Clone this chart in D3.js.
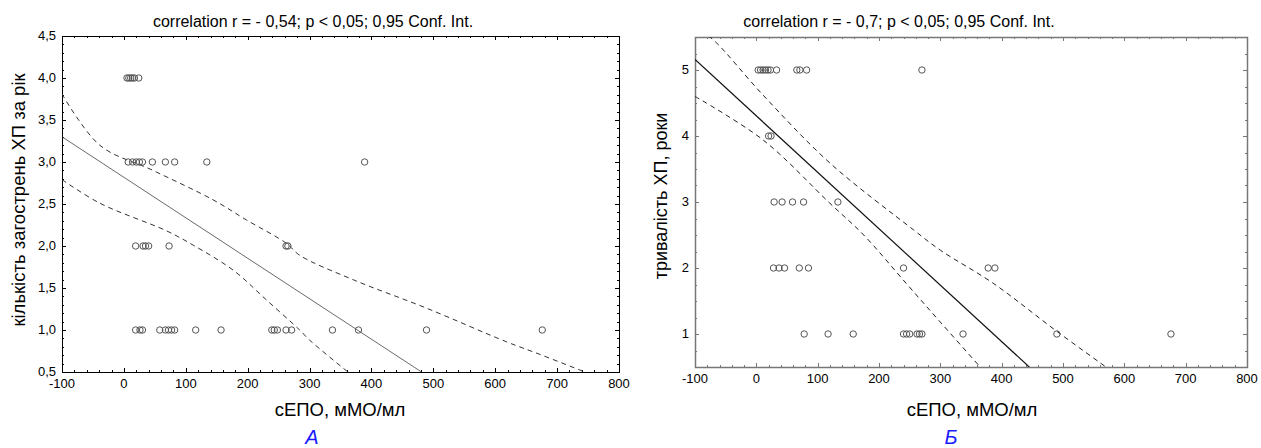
<!DOCTYPE html>
<html><head><meta charset="utf-8">
<script src="https://cdn.jsdelivr.net/npm/d3@7"></script>
<style>body{margin:0;background:#fff;overflow:hidden}svg{display:block}text{font-family:Arial,"Liberation Sans",sans-serif}</style>
</head><body><svg id="c" width="1261" height="448"></svg>
<script>
// ---- Panel A data ----
const titleA = "correlation r = - 0,54; p < 0,05; 0,95 Conf. Int.";
const yLabelA = "кількість загострень ХП за рік";
const xTicksA = [-100,0,100,200,300,400,500,600,700,800];
const yTicksA = [0.5,1.0,1.5,2.0,2.5,3.0,3.5,4.0,4.5];
const ptsA_x = [5,8,11,14,17,24, 7,14,20,25,30,46,67,82,134,389, 19,31,35,40,73,262,265, 19,26,30,58,67,72,77,82,116,157,239,243,248,262,271,337,379,489,676];
const ptsA_y = [4,4,4,4,4,4, 3,3,3,3,3,3,3,3,3,3, 2,2,2,2,2,2,2, 1,1,1,1,1,1,1,1,1,1,1,1,1,1,1,1,1,1,1];
const fitA = [[-100,3.3],[481,0.5]];
const upperA = [[-100,3.81],[-39,3.2],[47,2.9],[144,2.55],[198,2.31],[263,2.03],[284,1.89],[370,1.6],[489,1.26],[618,0.86],[672,0.71],[745,0.5]];
const lowerA = [[-100,2.79],[-39,2.51],[69,2.18],[112,2.01],[177,1.71],[230,1.36],[284,1.0],[300,0.88],[362,0.5]];

// ---- Panel B data ----
const titleB = "correlation r = - 0,7; p < 0,05; 0,95 Conf. Int.";
const yLabelB = "тривалість ХП, роки";
const xTicksB = [-100,0,100,200,300,400,500,600,700,800];
const yTicksB = [1,2,3,4,5];
const ptsB_x = [3,7,11,15,19,23,33,66,71,82,270, 20,24, 29,42,59,77,133, 28,37,46,70,85,240,378,389, 78,117,158,240,245,250,262,266,270,337,490,676];
const ptsB_y = [5,5,5,5,5,5,5,5,5,5,5, 4,4, 3,3,3,3,3, 2,2,2,2,2,2,2,2, 1,1,1,1,1,1,1,1,1,1,1,1];
const fitB = [[-100,5.16],[445,0.5]];
const upperB = [[-90,5.6],[-67,5.43],[11,4.62],[120,3.59],[256,2.58],[300,2.27],[386,1.77],[490,1.04],[570,0.5]];
const lowerB = [[-100,4.6],[11,3.94],[120,2.98],[175,2.5],[245,1.76],[300,1.18],[365,0.5]];

const xLabel = "сЕПО, мМО/мл";

const svg = d3.select("#c");

function panel(o){
  const g = svg.append("g");
  const x = d3.scaleLinear().domain(o.xd).range([o.x0,o.x1]);
  const y = d3.scaleLinear().domain(o.yd).range([o.y1,o.y0]);
  const cid = "clip"+o.id;
  svg.append("clipPath").attr("id",cid).append("rect").attr("x",o.x0).attr("y",o.y0).attr("width",o.x1-o.x0).attr("height",o.y1-o.y0);
  const mx = d3.range(o.xd[0],o.xd[1]+0.001,o.xminor);
  const my = d3.range(o.yd[0],o.yd[1]+0.001,o.yminor);
  const tk = g.append("g").attr("stroke",o.axisColor).attr("stroke-width",1);
  mx.forEach(v=>{ const X=Math.round(x(v))+0.5;
    tk.append("line").attr("x1",X).attr("x2",X).attr("y1",o.y1).attr("y2",o.y1-2);
    tk.append("line").attr("x1",X).attr("x2",X).attr("y1",o.y0).attr("y2",o.y0+2);});
  my.forEach(v=>{ const Y=Math.round(y(v))+0.5;
    tk.append("line").attr("x1",o.x0).attr("x2",o.x0+2).attr("y1",Y).attr("y2",Y);
    tk.append("line").attr("x1",o.x1).attr("x2",o.x1-2).attr("y1",Y).attr("y2",Y);});
  o.xt.forEach(v=>{ const X=Math.round(x(v))+0.5;
    tk.append("line").attr("x1",X).attr("x2",X).attr("y1",o.y1).attr("y2",o.y1-4);
    tk.append("line").attr("x1",X).attr("x2",X).attr("y1",o.y0).attr("y2",o.y0+4);});
  o.yt.forEach(v=>{ const Y=Math.round(y(v))+0.5;
    tk.append("line").attr("x1",o.x0).attr("x2",o.x0+4).attr("y1",Y).attr("y2",Y);
    tk.append("line").attr("x1",o.x1).attr("x2",o.x1-4).attr("y1",Y).attr("y2",Y);});
  g.append("rect").attr("x",o.x0+0.5).attr("y",o.y0+0.5).attr("width",o.x1-o.x0).attr("height",o.y1-o.y0)
    .attr("fill","none").attr("stroke",o.axisColor).attr("stroke-width",o.frameW);
  g.append("g").selectAll("text").data(o.xt).join("text")
    .attr("x",d=>x(d)).attr("y",o.y1+16).attr("text-anchor","middle").attr("font-size",13).attr("fill","#000")
    .text(d=>o.xfmt(d));
  g.append("g").selectAll("text").data(o.yt).join("text")
    .attr("x",o.x0-6).attr("y",d=>y(d)+4).attr("text-anchor","end").attr("font-size",o.yfs).attr("fill","#000")
    .text(d=>o.yfmt(d));
  const line = d3.line().x(d=>x(d[0])).y(d=>y(d[1]));
  const cl = g.append("g").attr("clip-path",`url(#${cid})`);
  cl.append("path").attr("d",line(o.fit)).attr("fill","none").attr("stroke",o.fitColor).attr("stroke-width",o.fitW);
  const cline = d3.line().x(d=>x(d[0])).y(d=>y(d[1])).curve(d3.curveCatmullRom.alpha(0.5));
  cl.append("path").attr("d",cline(o.up)).attr("fill","none").attr("stroke",o.bandColor).attr("stroke-width",1).attr("stroke-dasharray","5,4");
  cl.append("path").attr("d",cline(o.lo)).attr("fill","none").attr("stroke",o.bandColor).attr("stroke-width",1).attr("stroke-dasharray","5,4");
  g.append("g").selectAll("circle").data(o.px.map((v,i)=>[v,o.py[i]])).join("circle")
    .attr("cx",d=>x(d[0])).attr("cy",d=>y(d[1])).attr("r",3.2)
    .attr("fill","none").attr("stroke","#555").attr("stroke-width",1);
  svg.append("text").attr("x",o.tx).attr("y",27).attr("text-anchor","middle").attr("font-size",16).text(o.title);
  svg.append("text").attr("transform",`translate(${o.ylx},${o.yly}) rotate(-90)`).attr("text-anchor","middle").attr("font-size",o.ylfs).text(o.ylabel);
  svg.append("text").attr("x",o.xlx).attr("y",416).attr("text-anchor","middle").attr("font-size",18.5).text(xLabel);
  svg.append("text").attr("x",o.lx).attr("y",444).attr("text-anchor","middle").attr("font-size",20).attr("font-style","italic").attr("fill","#1a1aff").text(o.letter);
}

panel({id:"A",x0:62,x1:619,y0:36,y1:372,xd:[-100,800],yd:[0.5,4.5],xt:xTicksA,yt:yTicksA,xminor:20,yminor:0.1,
  xfmt:d=>String(d), yfmt:d=>d.toFixed(1).replace(".",","), yfs:13,
  axisColor:"#000",frameW:1,fit:fitA,up:upperA,lo:lowerA,fitColor:"#444",fitW:0.8,bandColor:"#333",
  px:ptsA_x,py:ptsA_y,title:titleA,tx:313,ylabel:yLabelA,ylfs:18.5,ylx:25,yly:200,xlx:340,lx:312,letter:"А"});

panel({id:"B",x0:695,x1:1247,y0:37,y1:367,xd:[-100,800],yd:[0.5,5.5],xt:xTicksB,yt:yTicksB,xminor:20,yminor:0.25,
  xfmt:d=>String(d), yfmt:d=>String(d), yfs:13,
  axisColor:"#777",frameW:1.5,fit:fitB,up:upperB,lo:lowerB,fitColor:"#111",fitW:1.2,bandColor:"#222",
  px:ptsB_x,py:ptsB_y,title:titleB,tx:899,ylabel:yLabelB,ylfs:18,ylx:667,yly:196,xlx:972,lx:951,letter:"Б"});
</script></body></html>
